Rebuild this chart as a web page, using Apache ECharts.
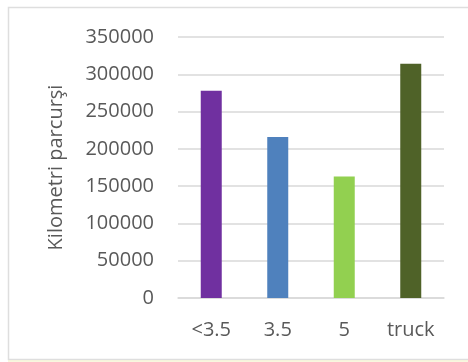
<!DOCTYPE html>
<html>
<head>
<meta charset="utf-8">
<script src="https://cdn.jsdelivr.net/npm/echarts@6/dist/echarts.min.js"></script>
<style>
  html, body { margin: 0; padding: 0; background: #fff; }
  #chart { width: 468px; height: 362px; }
</style>
</head>
<body>
<div id="chart"></div>
<script>
// Vehicle classes and distance travelled per class
const categories = ['<3.5', '3.5', '5', 'truck'];
const kilometres = [278000, 216000, 163000, 314000];
const barColors = ['#7030a0', '#4f81bd', '#92d050', '#4f6228'];
const yTicks = { min: 0, max: 350000, interval: 50000 };
const yAxisTitle = 'Kilometri parcurşi';

const textColor = '#595959';
const font = '"Open Sans", "Noto Sans", sans-serif';

const chart = echarts.init(document.getElementById('chart'), null, { renderer: 'canvas' });

chart.setOption({
  animation: false,
  backgroundColor: '#ffffff',
  graphic: [
    {
      type: 'rect',
      shape: { x: 8.5, y: 7.5, width: 480, height: 352 },
      style: { fill: 'none', stroke: '#dedede', lineWidth: 1.5 },
      silent: true
    },
    {
      type: 'line',
      shape: { x1: 8, y1: 361, x2: 468, y2: 361 },
      style: { stroke: '#f2efc0', lineWidth: 1 },
      silent: true
    }
  ],
  grid: { left: 178, right: 24, top: 37, bottom: 64, containLabel: false },
  xAxis: {
    type: 'category',
    data: categories,
    axisTick: { show: false },
    axisLine: { show: true, lineStyle: { color: '#d9d9d9', width: 1.5 } },
    axisLabel: { color: textColor, fontFamily: font, fontSize: 20, margin: 22 }
  },
  yAxis: {
    type: 'value',
    min: yTicks.min,
    max: yTicks.max,
    interval: yTicks.interval,
    name: yAxisTitle,
    nameLocation: 'middle',
    nameRotate: 90,
    nameGap: 112,
    nameTextStyle: { color: textColor, fontFamily: font, fontSize: 20 },
    axisLine: { show: false },
    axisTick: { show: false },
    splitLine: { lineStyle: { color: '#d9d9d9', width: 1.5 } },
    axisLabel: {
      color: textColor, fontFamily: font, fontSize: 20, margin: 24,
      formatter: v => String(v)
    }
  },
  series: [{
    type: 'bar',
    data: kilometres.map((v, i) => ({ value: v, itemStyle: { color: barColors[i] } })),
    barWidth: 21
  }]
});
</script>
</body>
</html>
